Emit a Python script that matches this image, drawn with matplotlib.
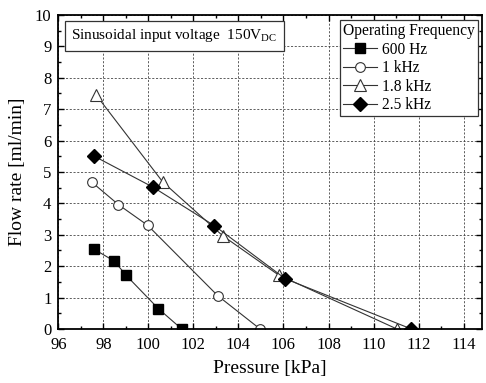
import matplotlib
matplotlib.use("Agg")
import matplotlib.pyplot as plt
from matplotlib.ticker import MultipleLocator

plt.rcParams["font.family"] = ["Liberation Serif", "DejaVu Serif"]
plt.rcParams["mathtext.fontset"] = "custom"
plt.rcParams["mathtext.rm"] = "Liberation Serif"

# Flow rate vs. back pressure for each drive frequency
p_600 = [97.59, 98.49, 99.01, 100.44, 101.48]
q_600 = [2.54, 2.16, 1.71, 0.65, 0.0]

p_1k = [97.48, 98.67, 99.97, 103.08, 104.96]
q_1k = [4.68, 3.96, 3.30, 1.06, 0.0]

p_1k8 = [97.68, 100.64, 103.30, 105.78, 111.04]
q_1k8 = [7.45, 4.68, 2.97, 1.72, 0.0]

p_2k5 = [97.60, 100.22, 102.93, 106.08, 111.68]
q_2k5 = [5.50, 4.51, 3.29, 1.60, 0.0]

labels = ["600 Hz", "1 kHz", "1.8 kHz", "2.5 kHz"]

fig = plt.figure(figsize=(4.86, 3.83), dpi=100)
ax = fig.add_axes([0.12, 0.141, 0.871, 0.82])

line_kw = dict(color="#333333", linewidth=0.8)
ax.plot(p_600, q_600, marker="s", markersize=6.5, markerfacecolor="black",
        markeredgecolor="black", label=labels[0], **line_kw)
ax.plot(p_1k, q_1k, marker="o", markersize=7, markerfacecolor="white",
        markeredgecolor="#333333", markeredgewidth=0.8, label=labels[1], **line_kw)
ax.plot(p_1k8, q_1k8, marker="^", markersize=9, markerfacecolor="white",
        markeredgecolor="#333333", markeredgewidth=0.8, label=labels[2], **line_kw)
ax.plot(p_2k5, q_2k5, marker="D", markersize=7.5, markerfacecolor="black",
        markeredgecolor="black", label=labels[3], **line_kw)

ax.set_xlim(96, 114.8)
ax.set_ylim(0, 10)
ax.xaxis.set_major_locator(MultipleLocator(2))
ax.xaxis.set_minor_locator(MultipleLocator(1))
ax.yaxis.set_major_locator(MultipleLocator(1))
ax.yaxis.set_minor_locator(MultipleLocator(0.5))

ax.tick_params(which="both", direction="in", top=True, right=True, labelsize=12,
               width=1.0, color="black")
ax.tick_params(which="major", length=4.5)
ax.tick_params(which="minor", length=2.5)
ax.tick_params(axis="x", pad=6)
ax.tick_params(axis="y", pad=5)

for s in ax.spines.values():
    s.set_linewidth(1.3)
    s.set_color("black")

ax.grid(True, which="major", color="#444444", linestyle=(0, (2.5, 2)), linewidth=0.6)
ax.set_axisbelow(True)

ax.set_xlabel("Pressure [kPa]", fontsize=14, labelpad=5)
ax.set_ylabel("Flow rate [ml/min]", fontsize=14, labelpad=6)

ax.text(0.03, 0.933, r"Sinusoidal input voltage  150V$_{\mathrm{DC}}$",
        transform=ax.transAxes, fontsize=11, ha="left", va="center",
        bbox=dict(boxstyle="square,pad=0.42", facecolor="white",
                  edgecolor="#333333", linewidth=0.9))

leg = ax.legend(title="Operating Frequency", loc="upper right",
                bbox_to_anchor=(0.999, 0.993), fontsize=11.2, title_fontsize=11.2,
                frameon=True, fancybox=False, framealpha=1, edgecolor="#333333",
                handlelength=2.2, handletextpad=0.3, labelspacing=0.16,
                borderpad=0.2, borderaxespad=0.2)
leg._legend_box.align = "left"
leg.get_frame().set_linewidth(0.9)

fig.savefig("out.png", dpi=100)
